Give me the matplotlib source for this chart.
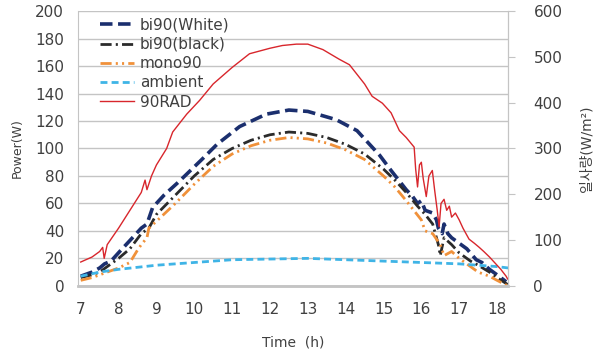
import matplotlib
matplotlib.use('Agg')
import matplotlib.pyplot as plt

plt.rcParams['font.family'] = ['DejaVu Sans', 'Noto Sans CJK KR']
plt.rcParams['lines.scale_dashes'] = False

# bi90(White)
t_white = [7.0, 7.3, 7.5, 7.63, 7.8, 8.03, 8.3, 8.6, 8.75, 8.9, 9.2, 9.6, 10.2, 10.6, 11.2, 11.9,
           12.5, 13.0, 13.75, 14.3, 14.9, 15.2, 15.4, 15.6, 15.77, 15.9, 16.0, 16.1, 16.3, 16.4,
           16.45, 16.55, 16.6, 16.7, 16.8, 17.0, 17.2, 17.45, 17.6, 17.8, 18.0, 18.24]
p_white = [7, 10, 13, 16, 18, 25, 33, 42, 45, 57, 66, 76, 92, 103, 116, 125,
           128, 127, 121, 113, 95, 84, 77, 70, 65, 60, 62, 55, 53, 48,
           42, 38, 45, 38, 35, 31, 27, 19, 17, 12, 8, 3]

# bi90(black)
t_black = [7.0, 7.3, 7.5, 7.7, 8.0, 8.3, 8.6, 8.8, 9.0, 9.5, 10.0, 10.5, 11.0, 11.5, 12.0, 12.5,
           13.0, 13.5, 14.0, 14.5, 15.0, 15.3, 15.6, 15.9, 16.1, 16.3, 16.45, 16.5, 16.6, 16.8,
           17.0, 17.3, 17.5, 17.8, 18.0, 18.28]
p_black = [6, 8, 10, 14, 20, 27, 38, 42, 52, 66, 80, 92, 100, 106, 110, 112,
           111, 108, 103, 96, 85, 77, 68, 58, 52, 45, 30, 22, 35, 30,
           24, 18, 15, 10, 6, 1]

# mono90
t_mono = [7.0, 7.3, 7.6, 8.0, 8.3, 8.5, 8.6, 8.75, 8.8, 9.0, 9.5, 10.0, 10.5, 11.0, 11.5, 12.0,
          12.5, 13.0, 13.5, 14.0, 14.5, 15.0, 15.3, 15.6, 15.8, 16.0, 16.1, 16.3, 16.5, 16.6,
          16.8, 17.0, 17.3, 17.5, 17.8, 18.0, 18.28]
p_mono = [4, 6, 9, 13, 17, 26, 30, 35, 42, 47, 60, 74, 87, 96, 102, 106,
          108, 107, 104, 99, 92, 80, 72, 62, 55, 48, 40, 38, 30, 22,
          25, 20, 14, 10, 7, 4, 0]

# ambient
t_amb = [7.0, 7.5, 8.0, 8.5, 9.0, 9.5, 10.0, 11.0, 12.0, 13.0, 14.0, 15.0, 16.0, 17.0, 18.0, 18.3]
p_amb = [7, 10, 12, 13.5, 15, 16, 17, 19, 19.5, 20, 19, 18, 17, 16, 14, 13]

# 90RAD (W/m2, right axis)
t_rad = [7.0, 7.3, 7.5, 7.58, 7.62, 7.7, 8.0, 8.3, 8.6, 8.7, 8.75, 8.87, 9.0, 9.27, 9.43, 9.8,
         10.14, 10.5, 11.0, 11.46, 12.0, 12.33, 12.7, 13.0, 13.4, 13.83, 14.1, 14.5, 14.7, 14.97,
         15.2, 15.42, 15.6, 15.81, 15.85, 15.9, 15.95, 16.0, 16.05, 16.13, 16.2, 16.29, 16.35,
         16.42, 16.47, 16.52, 16.6, 16.67, 16.74, 16.8, 16.9, 17.0, 17.1, 17.26, 17.4, 17.53,
         17.65, 17.8, 18.0, 18.1, 18.24, 18.28]
rad = [52, 63, 75, 84, 60, 90, 126, 165, 204, 231, 210, 240, 264, 300, 336, 375,
       405, 441, 477, 507, 519, 525, 528, 528, 516, 495, 483, 441, 414, 399,
       378, 339, 324, 303, 255, 216, 264, 270, 234, 195, 240, 252, 210,
       165, 129, 180, 189, 165, 174, 150, 159, 144, 126, 102, 93, 84,
       75, 63, 45, 36, 21, 15]

text_col = '#404040'
grid_col = '#c4c4c4'

fig, ax = plt.subplots(figsize=(5.96, 3.49), dpi=100)
fig.subplots_adjust(left=0.131, right=0.853, top=0.968, bottom=0.181)
ax2 = ax.twinx()

l1, = ax.plot(t_white, p_white, color='#1b2f6e', lw=2.6, dashes=(9, 4), label='bi90(White)')
l2, = ax.plot(t_black, p_black, color='#2b2b2b', lw=2.0, dashes=(8, 3, 1.5, 3), label='bi90(black)')
l3, = ax.plot(t_mono, p_mono, color='#f0913a', lw=2.0, dashes=(8, 3, 1.5, 3, 1.5, 3), label='mono90')
l4, = ax.plot(t_amb, p_amb, color='#3fb4e6', lw=2.0, dashes=(5, 3), label='ambient')
l5, = ax2.plot(t_rad, rad, color='#d8262c', lw=1.0, label='90RAD')

ax.set_xlim(6.93, 18.3)
ax.set_ylim(0, 200)
ax2.set_ylim(0, 600)
ax.set_xticks(range(7, 19))
ax.set_yticks(range(0, 201, 20))
ax2.set_yticks(range(0, 601, 100))
ax.yaxis.grid(True, color=grid_col, lw=1.0)
ax.set_axisbelow(True)

for a in (ax, ax2):
    a.spines['top'].set_visible(False)
    for s in ('left', 'right', 'bottom'):
        a.spines[s].set_color(grid_col)
    a.spines['bottom'].set_linewidth(1.8)
    a.tick_params(colors=text_col, labelsize=11, length=0)
ax.tick_params(axis='x', pad=12)
ax.tick_params(axis='y', pad=10)
ax2.tick_params(axis='y', length=5, color=grid_col, pad=13)
ax2.spines['left'].set_visible(False)

ax.set_xlabel('Time  (h)', fontsize=10, color=text_col, labelpad=13)
ax.set_ylabel('Power(W)', fontsize=9, color=text_col, labelpad=8)
ax2.set_ylabel('일사량(W/m²)', fontsize=10, color=text_col, rotation=90, labelpad=12)

ax2.legend(handles=[l1, l2, l3, l4, l5], loc='upper left', bbox_to_anchor=(0.03, 1.01),
           frameon=False, fontsize=11, handlelength=2.2, labelspacing=0.28,
           handletextpad=0.4, labelcolor=text_col, borderaxespad=0.2)

fig.savefig('out.png', dpi=100)
